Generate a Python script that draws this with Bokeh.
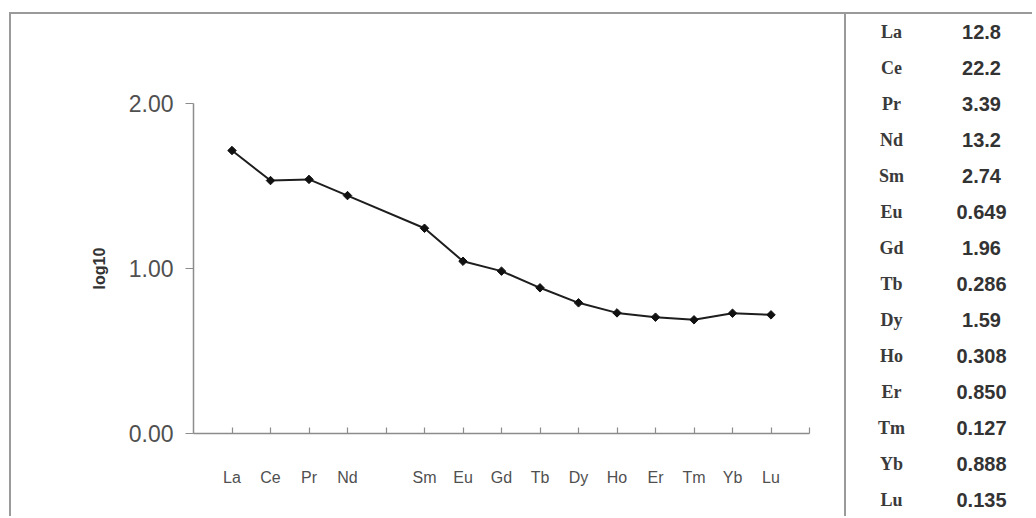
from bokeh.plotting import figure
from bokeh.layouts import row
from bokeh.models import FixedTicker, Range1d, ColumnDataSource
from bokeh.core.properties import value
from bokeh.embed import file_html
from bokeh.resources import INLINE
import math

# ---------------- data ----------------
ree_order = ["La", "Ce", "Pr", "Nd", "Pm", "Sm", "Eu", "Gd", "Tb", "Dy", "Ho", "Er", "Tm", "Yb", "Lu"]
elements = ["La", "Ce", "Pr", "Nd", "Sm", "Eu", "Gd", "Tb", "Dy", "Ho", "Er", "Tm", "Yb", "Lu"]
log10_values = [1.715, 1.533, 1.540, 1.442, 1.244, 1.044, 0.984, 0.883, 0.792, 0.731, 0.705, 0.689, 0.729, 0.719]
ppm_values = [12.8, 22.2, 3.39, 13.2, 2.74, 0.649, 1.96, 0.286, 1.59, 0.308, 0.850, 0.127, 0.888, 0.135]
y_ticks = [0, 1, 2]
y_label = "log10"

# ---------------- chart ----------------
xs = [ree_order.index(e) + 1 for e in elements]
src = ColumnDataSource(dict(x=xs, y=log10_values))

W, H = 833, 502
p = figure(width=W, height=H, output_backend="svg", toolbar_location=None,
           x_range=Range1d(0, len(ree_order) + 1), y_range=Range1d(0, 2),
           min_border_left=182, min_border_right=35, min_border_top=89, min_border_bottom=83)
p.frame_align = False
p.outline_line_color = None
p.grid.visible = False
p.background_fill_color = "white"
p.border_fill_color = "white"

p.line("x", "y", source=src, line_color="#1e1e1e", line_width=2)
p.scatter("x", "y", source=src, marker="square", angle=math.pi / 4, size=6,
          fill_color="#111111", line_color="#111111")

xa = p.xaxis[0]
xa.ticker = FixedTicker(ticks=list(range(1, len(ree_order) + 2)))
overrides = {i + 1: (e if e in elements else "") for i, e in enumerate(ree_order)}
overrides[len(ree_order) + 1] = ""
xa.major_label_overrides = overrides
xa.major_tick_in = 6
xa.major_tick_out = 0
xa.minor_tick_line_color = None
xa.axis_line_color = "#8c8c8c"
xa.axis_line_width = 1.5
xa.major_tick_line_color = "#8c8c8c"
xa.major_tick_line_width = 1.2
xa.major_label_text_font = "Liberation Sans"
xa.major_label_text_font_size = "16px"
xa.major_label_text_color = "#505050"
xa.major_label_standoff = 35

ya = p.yaxis[0]
ya.ticker = FixedTicker(ticks=y_ticks)
ya.major_label_overrides = {t: f"{t:.2f}" for t in y_ticks}
ya.major_tick_in = 0
ya.major_tick_out = 8
ya.minor_tick_line_color = None
ya.axis_line_color = "#8c8c8c"
ya.axis_line_width = 1.5
ya.major_tick_line_color = "#8c8c8c"
ya.major_tick_line_width = 1.2
ya.major_label_text_font = "Liberation Sans"
ya.major_label_text_font_size = "23px"
ya.major_label_text_color = "#505050"
ya.major_label_standoff = 12
ya.axis_label = y_label
ya.axis_label_text_font = "Liberation Sans"
ya.axis_label_text_font_size = "16px"
ya.axis_label_text_font_style = "bold"
ya.axis_label_text_color = "#333333"
ya.axis_label_standoff = 18

# ---------------- table ----------------
TW = 188
n = len(elements)
ROW0, ROWH = 17.5, 36.0   # first row centre and row pitch inside the table panel
NAME_C, VAL_C = 45, 135   # column centres inside the table panel (px)
tsrc = ColumnDataSource(dict(
    name_x=[0] * n, val_x=[1] * n, row=list(range(n)),
    name=elements, val=[f"{v:#.3g}" for v in ppm_values]))
scale = VAL_C - NAME_C
t = figure(width=TW, height=H, output_backend="svg", toolbar_location=None,
           x_range=Range1d(-NAME_C / scale, (TW - NAME_C) / scale),
           y_range=Range1d((H - ROW0) / ROWH, -ROW0 / ROWH),
           min_border=0, styles={"border-left": "2px solid #9a9a9a"})
t.frame_align = False
t.axis.visible = False
t.grid.visible = False
t.outline_line_color = None
t.text("name_x", "row", text="name", source=tsrc, text_font=value("Liberation Serif"),
       text_font_style="bold", text_font_size="18px", text_color="#3a3a3a",
       text_align="center", text_baseline="middle")
t.text("val_x", "row", text="val", source=tsrc, text_font=value("Liberation Sans"),
       text_font_style="bold", text_font_size="20px", text_color="#333333",
       text_align="center", text_baseline="middle")

layout = row(p, t, margin=(12, 0, 0, 9),
             styles={"border-top": "2px solid #9a9a9a", "border-left": "2px solid #9a9a9a"})

open("out.html", "w").write(file_html(layout, INLINE))
